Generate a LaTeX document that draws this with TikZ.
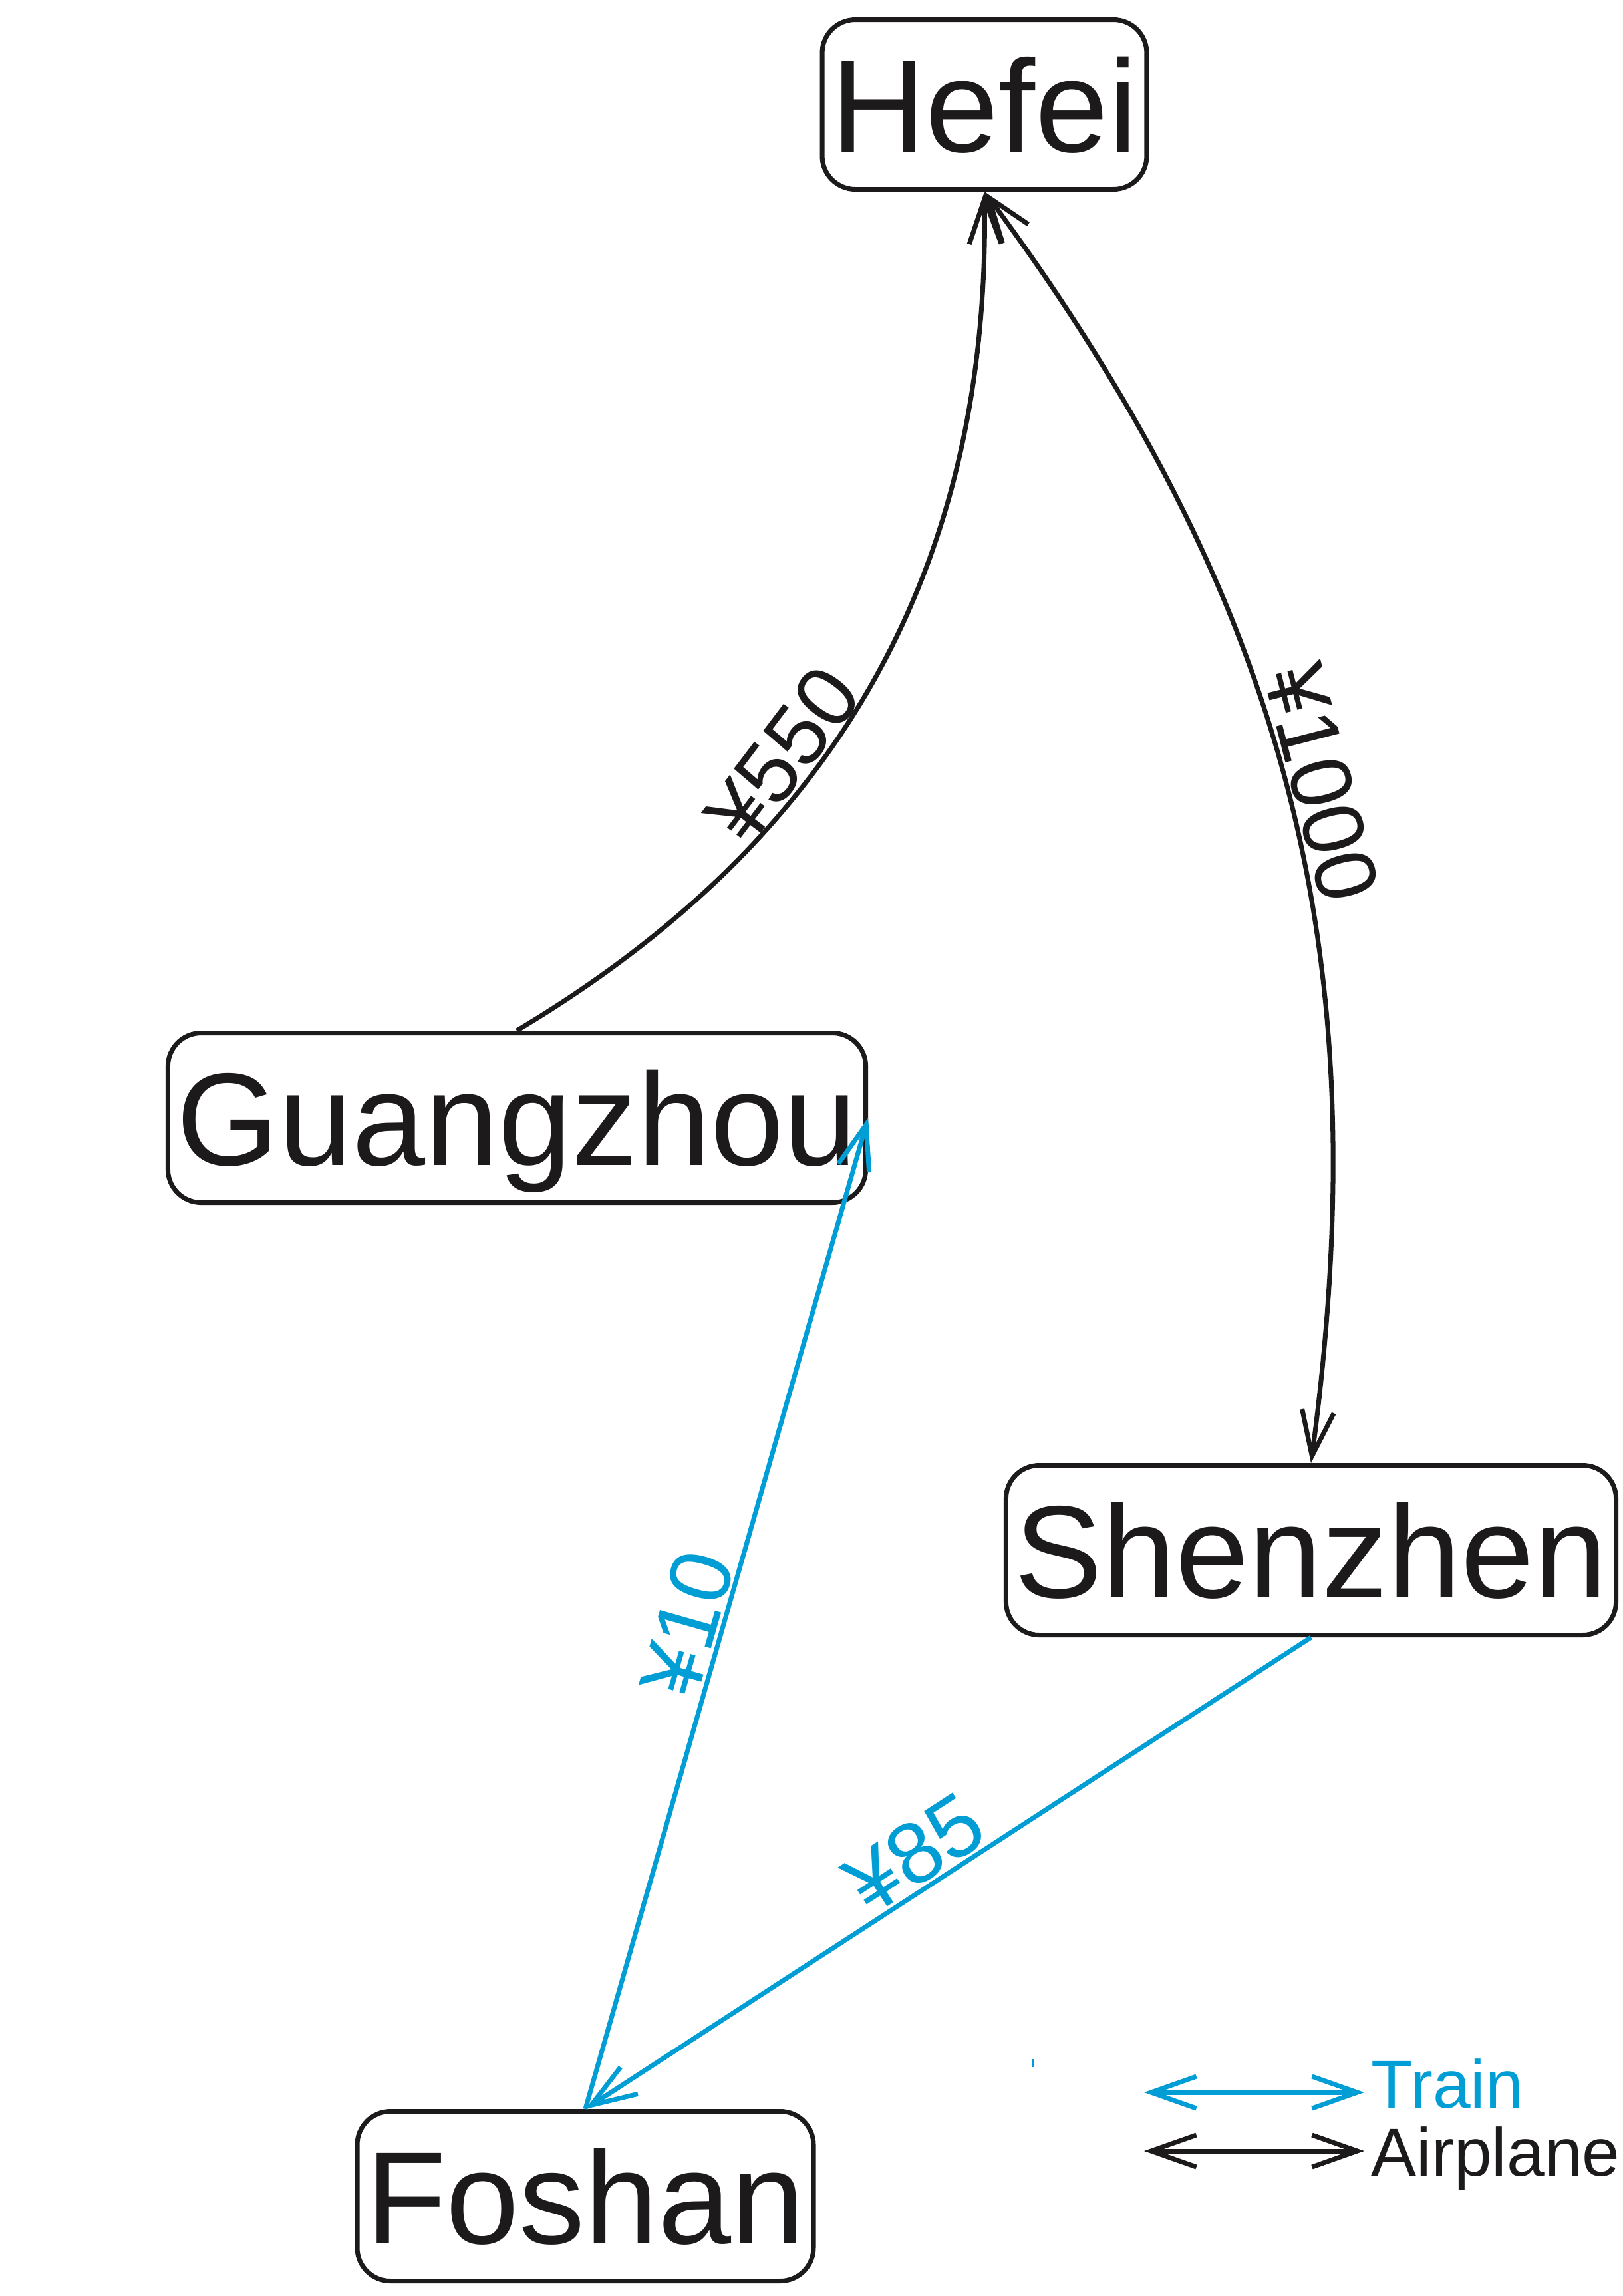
\documentclass[tikz,border=0pt]{standalone}
\usepackage{fontspec}
\setmainfont{Liberation Sans}
\usetikzlibrary{arrows.meta}

\definecolor{trainblue}{RGB}{0,158,212}
\definecolor{inkblack}{RGB}{28,26,26}

\tikzset{
  city/.style={draw=inkblack, line width=2pt, rounded corners=0.5cm, text=inkblack,
    font=\fontsize{56.3}{60}\selectfont, text height=1.42cm, text depth=0cm,
    inner xsep=0.13cm, inner ysep=0cm, minimum height=2.55cm},
  price/.style={font=\fontsize{37}{40}\selectfont, sloped, above, inner sep=0.03cm},
  plane/.style={draw=inkblack, text=inkblack, line width=2pt},
  train/.style={draw=trainblue, text=trainblue, line width=2pt},
  keytext/.style={font=\fontsize{29}{32}\selectfont, anchor=base west, inner sep=0cm}
}

\begin{document}
\begin{tikzpicture}[>={Straight Barb[length=0.68cm,width=0.48cm]}]
\useasboundingbox (0,0) rectangle (24.40,-34.51);

%city boxes
\node[city] (hefei) at (14.80,-1.57) {Hefei};
\node[city] (guangzhou) at (7.77,-16.80) {Guangzhou};
\node[city] (shenzhen) at (19.71,-23.30) {Shenzhen};
\node[city] (foshan) at (8.80,-33.01) {Foshan};

%flights
\draw[plane,->] (guangzhou.north) to[bend right=30] node[price,pos=0.38] {¥550} (hefei.south);
\draw[plane,<->] (hefei.south) to[bend left=22] node[price,pos=0.5] {¥1000} (shenzhen.north);

%trains
\draw[train,->] (foshan.north) -- node[price,pos=0.48] {¥10} (guangzhou.east);
\draw[train,->] (shenzhen.south) -- node[price,pos=0.52] {¥85} (foshan.north);

%legend
\draw[trainblue, line width=0.6pt] (15.53,-30.95) -- (15.53,-31.07);
\coordinate (trainA) at (17.20,-31.45);
\coordinate (trainB) at (20.51,-31.45);
\coordinate (planeA) at (17.20,-32.33);
\coordinate (planeB) at (20.51,-32.33);
\draw[train,<->] (trainA) -- (trainB);
\draw[plane,<->] (planeA) -- (planeB);
\node[keytext, text=trainblue] (trainkey) at (20.61,-31.68) {Train};
\node[keytext, text=inkblack] (planekey) at (20.61,-32.70) {Airplane};

\end{tikzpicture}
\end{document}
